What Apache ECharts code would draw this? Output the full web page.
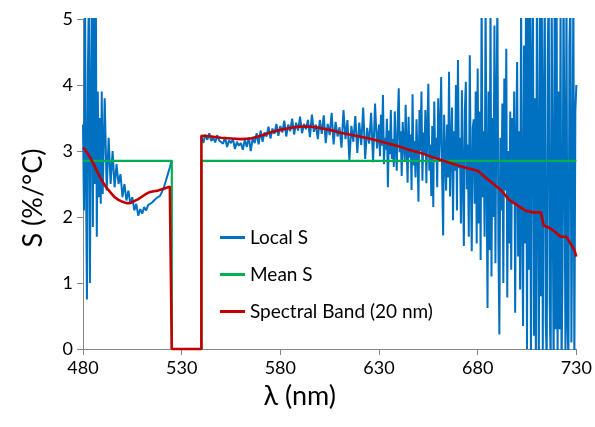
<!DOCTYPE html>
<html>
<head>
<meta charset="utf-8">
<script src="https://cdn.jsdelivr.net/npm/echarts@6/dist/echarts.min.js"></script>
<style>
  html, body { margin: 0; padding: 0; background: #fff; }
  #chartmain { width: 595px; height: 427px; }
</style>
</head>
<body>
<div id="chartmain"></div>
<script>
// 刻度
var xTicks = [480, 530, 580, 630, 680, 730];
var yTicks = [0, 1, 2, 3, 4, 5];

// Local S, 480-490 nm, 0.5 nm step
var local1Start = 480, local1Step = 0.5;
var local1 = [
    3.40, 2.10, 5.50, 2.60, 0.75, 4.20, 5.50, 1.00, 3.60, 5.40,
    1.85, 5.30, 2.50, 5.40, 1.70, 3.90, 2.30, 3.50, 2.20, 3.90,
    2.35
];
// Local S, 491-525 nm, 1 nm step
var local2Start = 491, local2Step = 1;
var local2 = [
    3.80, 2.40, 3.20, 2.50, 3.00, 2.45, 2.80, 2.50, 2.65, 2.30,   // 491
    2.50, 2.25, 2.40, 2.20, 2.30, 2.10, 2.20, 2.02, 2.12, 2.05,   // 501
    2.15, 2.10, 2.18, 2.15, 2.22, 2.20, 2.28, 2.25, 2.32, 2.38,   // 511
    2.45, 2.55, 2.65, 2.75, 2.86                                  // 521
];
// Local S, 540-629 nm, 1 nm step
var local3Start = 540, local3Step = 1;
var local3 = [
    3.22, 3.12, 3.25, 3.17, 3.27, 3.15, 3.20, 3.13, 3.24, 3.16,   // 540
    3.19, 3.11, 3.21, 3.06, 3.16, 3.12, 3.18, 3.03, 3.14, 3.08,   // 550
    3.12, 3.02, 3.17, 3.06, 3.21, 3.00, 3.19, 3.12, 3.27, 3.10,   // 560
    3.31, 3.14, 3.28, 3.22, 3.37, 3.19, 3.34, 3.26, 3.41, 3.23,   // 570
    3.38, 3.28, 3.46, 3.22, 3.40, 3.30, 3.49, 3.25, 3.43, 3.31,   // 580
    3.52, 3.27, 3.41, 3.33, 3.47, 3.21, 3.55, 3.29, 3.40, 3.18,   // 590
    3.47, 3.26, 3.54, 3.12, 3.41, 3.24, 3.58, 3.10, 3.44, 3.22,   // 600
    3.36, 3.05, 3.62, 3.18, 3.47, 2.86, 3.38, 3.14, 3.53, 2.97,   // 610
    3.43, 3.09, 3.66, 2.88, 3.35, 3.11, 3.58, 2.83, 3.72, 3.04    // 620
];
// Local S, 630-679.5 nm, 0.5 nm step
var local4Start = 630, local4Step = 0.5;
var local4 = [
    3.40, 2.92, 3.55, 3.08, 3.85, 2.80, 3.20, 3.02, 3.49, 2.45,   // 630
    3.31, 2.95, 3.62, 2.88, 3.18, 2.76, 3.60, 3.05, 2.70, 3.45,   // 635
    3.95, 2.98, 3.30, 2.62, 3.44, 3.10, 2.85, 3.70, 3.05, 2.52,   // 640
    3.52, 2.90, 3.25, 2.41, 3.86, 2.78, 3.15, 2.60, 3.48, 2.95,   // 645
    2.23, 3.62, 3.00, 3.90, 2.55, 3.28, 2.94, 3.62, 2.51, 3.35,   // 650
    4.02, 2.70, 3.10, 2.32, 3.38, 2.15, 3.75, 2.88, 3.20, 2.45,   // 655
    3.80, 2.85, 3.30, 4.12, 2.60, 1.72, 3.55, 2.95, 2.40, 3.40,   // 660
    2.60, 4.20, 2.31, 3.10, 3.66, 1.95, 3.30, 2.70, 4.00, 2.10,   // 665
    4.38, 2.74, 3.20, 1.90, 3.92, 2.55, 1.56, 3.60, 4.05, 2.42,   // 670
    3.10, 1.70, 4.45, 2.60, 1.48, 3.35, 3.48, 2.20, 3.90, 1.60    // 675
];
// Local S, 680-730 nm, 0.5 nm step
var local5Start = 680, local5Step = 0.5;
var local5 = [
    4.25, 1.90, 3.60, 1.35, 5.40, 2.30, 3.30, 1.70, 5.30, 2.60,   // 680
    0.62, 3.90, 1.50, 5.30, 1.10, 3.50, 2.00, 4.90, 1.30, 3.70,   // 685
    5.25, 1.60, 0.22, 3.20, 2.10, 3.72, 1.00, 4.10, 2.40, 4.55,   // 690
    0.78, 3.00, 1.60, 3.60, 1.20, 3.50, 2.20, 3.90, 0.55, 3.10,   // 695
    4.35, 1.40, 3.30, 0.90, 5.30, 2.00, 0.35, 4.60, 1.60, 5.40,   // 700
    0.00, 5.40, 1.20, 5.50, -0.20, 4.30, 5.60, 0.20, 3.80, -0.30, // 705
    5.30, 2.60, -0.30, 5.50, 0.80, 5.50, -0.10, 3.60, 5.40, 0.40, // 710
    -0.20, 4.40, 5.60, 0.70, -0.30, 5.40, 2.40, -0.40, 5.20, 0.30,// 715
    5.50, -0.20, 3.90, 0.30, 5.30, -0.30, 1.20, 5.60, 2.90, -0.20,// 720
    5.50, 0.40, -0.20, 4.60, 5.40, 0.10, 2.50, 5.50, -0.30, 3.60, // 725
    4.00                                                          // 730
];

// Mean S
var meanX = [480, 525, 525, 540, 540, 730];
var meanS = [2.85, 2.85, 0, 0, 2.85, 2.85];

// Spectral Band (20 nm)
var bandX = [480, 482, 484, 486, 488, 490, 492, 494, 496, 498,
             500, 502, 504, 506, 508, 510, 512, 514, 516, 518,
             520, 522, 524, 525, 525, 540, 540, 545, 550, 555,
             560, 565, 570, 575, 580, 585, 590, 595, 600, 605,
             610, 615, 620, 625, 630, 635, 640, 645, 650, 655,
             660, 665, 670, 675, 680, 684, 688, 692, 696, 700,
             704, 708, 712, 713.5, 716, 719, 722, 725, 727, 729, 730];
var bandS = [3.05, 2.98, 2.88, 2.76, 2.64, 2.53, 2.44, 2.37, 2.30, 2.26,
             2.23, 2.21, 2.21, 2.24, 2.27, 2.31, 2.35, 2.38, 2.39, 2.40,
             2.42, 2.44, 2.46, 2.47, 0, 0, 3.23, 3.22, 3.20, 3.19,
             3.18, 3.19, 3.23, 3.28, 3.32, 3.35, 3.37, 3.37, 3.35, 3.32,
             3.28, 3.25, 3.22, 3.19, 3.15, 3.11, 3.07, 3.02, 2.98, 2.93,
             2.88, 2.83, 2.78, 2.74, 2.70, 2.60, 2.50, 2.40, 2.26, 2.18,
             2.10, 2.07, 2.07, 1.87, 1.84, 1.78, 1.70, 1.70, 1.60, 1.50, 1.40];

function pairs(xs, ys) {
    return xs.map(function (x, i) { return [x, ys[i]]; });
}
function seg(start, step, vals) {
    return vals.map(function (v, i) { return [start + i * step, v]; });
}

var localData = seg(local1Start, local1Step, local1)
    .concat(seg(local2Start, local2Step, local2))
    .concat([[532, '-']])
    .concat(seg(local3Start, local3Step, local3))
    .concat(seg(local4Start, local4Step, local4))
    .concat(seg(local5Start, local5Step, local5));

var fontFamily = 'Lato, "Open Sans", sans-serif';

var option = {
    animation: false,
    grid: { left: 83, right: 17, top: 19, bottom: 78 },
    legend: {
        orient: 'vertical',
        left: 215,
        top: 223,
        itemWidth: 25,
        itemHeight: 3,
        itemGap: 18,
        icon: 'rect',
        textStyle: { fontFamily: fontFamily, fontSize: 19, color: '#000' },
        data: ['Local S', 'Mean S', 'Spectral Band (20 nm)']
    },
    xAxis: {
        type: 'value',
        min: 480,
        max: 730,
        interval: 50,
        name: 'λ (nm)',
        nameLocation: 'middle',
        nameGap: 34,
        nameTextStyle: { fontFamily: fontFamily, fontSize: 27, color: '#000', padding: [0, 60, 0, 0] },
        axisLine: { lineStyle: { color: '#868686', width: 1 } },
        axisTick: { show: true, length: 6, lineStyle: { color: '#868686' } },
        axisLabel: { fontFamily: fontFamily, fontSize: 18, color: '#000', margin: 10,
            formatter: function (v) { return xTicks.indexOf(v) >= 0 ? String(v) : ''; } },
        splitLine: { show: false }
    },
    yAxis: {
        type: 'value',
        min: 0,
        max: 5,
        interval: 1,
        name: 'S (%/°C)',
        nameLocation: 'middle',
        nameGap: 36,
        nameTextStyle: { fontFamily: fontFamily, fontSize: 27, color: '#000', padding: [0, 28, 0, 0] },
        axisLine: { show: true, lineStyle: { color: '#868686', width: 1 } },
        axisTick: { show: true, length: 6, lineStyle: { color: '#868686' } },
        axisLabel: { fontFamily: fontFamily, fontSize: 18, color: '#000', margin: 10,
            formatter: function (v) { return yTicks.indexOf(v) >= 0 ? String(v) : ''; } },
        splitLine: { show: false }
    },
    series: [{
        name: 'Local S',
        type: 'line',
        data: localData,
        symbol: 'none',
        connectNulls: false,
        clip: true,
        color: '#0070c0',
        lineStyle: { width: 2, color: '#0070c0' }
    }, {
        name: 'Mean S',
        type: 'line',
        data: pairs(meanX, meanS),
        symbol: 'none',
        clip: true,
        color: '#00b050',
        lineStyle: { width: 2.2, color: '#00b050' }
    }, {
        name: 'Spectral Band (20 nm)',
        type: 'line',
        data: pairs(bandX, bandS),
        symbol: 'none',
        clip: false,
        color: '#c00000',
        lineStyle: { width: 2.6, color: '#c00000' }
    }]
};

var myChart = echarts.init(document.getElementById('chartmain'));
myChart.setOption(option);
</script>
</body>
</html>
